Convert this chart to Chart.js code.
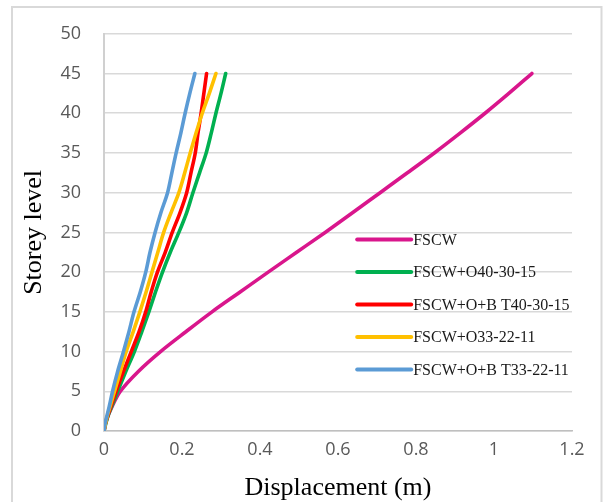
<!DOCTYPE html>
<html><head><meta charset="utf-8">
<script src="https://cdn.jsdelivr.net/npm/chart.js@4.4.0/dist/chart.umd.min.js"></script>
<style>html,body{margin:0;padding:0;background:#fff;} #wrap{width:603px;height:502px;position:relative;}</style>
</head><body><div id="wrap"><canvas id="c" width="603" height="502"></canvas></div>
<script>
// Storey levels (y) and displacements (m)
const storeys = [0,1,2,3,5,7.5,10,12.5,15,17.5,20,22.5,25,27.5,30,32.5,35,37.5,40,42.5,45];
const fscw     = [0,0.004,0.011,0.020,0.042,0.088,0.145,0.210,0.277,0.349,0.421,0.494,0.567,0.638,0.708,0.778,0.847,0.913,0.977,1.038,1.097];
const fscwO40  = [0,0.005,0.011,0.019,0.035,0.056,0.078,0.097,0.115,0.132,0.150,0.170,0.192,0.212,0.228,0.245,0.262,0.275,0.287,0.300,0.312];
const fscwOBT40= [0,0.004,0.010,0.017,0.031,0.050,0.070,0.090,0.107,0.121,0.137,0.157,0.175,0.195,0.212,0.223,0.234,0.241,0.249,0.256,0.263];
const fscwO33  = [0,0.004,0.009,0.015,0.027,0.042,0.057,0.075,0.092,0.108,0.123,0.138,0.153,0.172,0.192,0.207,0.221,0.236,0.252,0.270,0.287];
const fscwOBT33= [0,0.003,0.008,0.013,0.022,0.035,0.050,0.064,0.077,0.093,0.107,0.118,0.131,0.146,0.163,0.174,0.185,0.197,0.208,0.220,0.233];

const seriesNames = ['FSCW','FSCW+O40-30-15','FSCW+O+B T40-30-15','FSCW+O33-22-11','FSCW+O+B T33-22-11'];
const seriesData  = [fscw, fscwO40, fscwOBT40, fscwO33, fscwOBT33];
const seriesColors = ['#D9168C','#00B050','#FF0000','#FFC000','#5B9BD5'];

const xTicks = [0,0.2,0.4,0.6,0.8,1,1.2];
const xTickLabels = ['0','0.2','0.4','0.6','0.8','1','1.2'];
const yTicks = [0,5,10,15,20,25,30,35,40,45,50];

const datasets = seriesData.map((vals, i) => ({
  label: seriesNames[i],
  data: vals.map((v, k) => ({x: v, y: storeys[k]})),
  borderColor: seriesColors[i],
  backgroundColor: seriesColors[i],
  borderWidth: 3.6,
  pointRadius: 0,
  cubicInterpolationMode: 'monotone',
  borderCapStyle: 'round',
  borderJoinStyle: 'round',
  fill: false,
  order: seriesData.length - i
}));

const frame = {
  id: 'frame',
  beforeDraw(chart) {
    const ctx = chart.ctx;
    ctx.save();
    ctx.fillStyle = '#fff';
    ctx.fillRect(0, 0, chart.width, chart.height);
    ctx.strokeStyle = '#D9D9D9';
    ctx.lineWidth = 2;
    ctx.strokeRect(12, 7, 589.5, 520);
    ctx.restore();
  }
};

const legendPlugin = {
  id: 'customLegend',
  afterDatasetsDraw(chart) {
    const ctx = chart.ctx;
    const a = chart.chartArea;
    const x0 = a.left + (a.right - a.left) * 0.541;
    const len = 54;
    const yStart = a.top + (a.bottom - a.top) * 0.518;
    const step = 32.5;
    ctx.save();
    ctx.font = '16px "Liberation Serif", "Times New Roman", serif';
    ctx.textBaseline = 'middle';
    ctx.textAlign = 'left';
    seriesNames.forEach((name, i) => {
      const y = yStart + i * step;
      ctx.strokeStyle = seriesColors[i];
      ctx.lineWidth = 4;
      ctx.lineCap = 'round';
      ctx.beginPath();
      ctx.moveTo(x0, y);
      ctx.lineTo(x0 + len, y);
      ctx.stroke();
      ctx.fillStyle = '#1a1a1a';
      ctx.fillText(name, x0 + len + 2, y + 1);
    });
    ctx.restore();
  }
};

new Chart(document.getElementById('c'), {
  type: 'line',
  data: { datasets },
  plugins: [frame, legendPlugin],
  options: {
    responsive: false,
    animation: false,
    devicePixelRatio: 1,
    indexAxis: 'y',
    layout: { padding: { left: 0, right: 31, top: 30, bottom: 0 } },
    plugins: { legend: { display: false }, tooltip: { enabled: false } },
    scales: {
      x: {
        type: 'linear',
        position: 'bottom',
        min: 0, max: 1.2,
        afterFit(s) { s.height = 71; },
        afterBuildTicks(s) { s.ticks = xTicks.map(v => ({value: v})); },
        grid: { display: false, drawTicks: false },
        border: { display: true, color: '#BFBFBF', width: 1.5 },
        ticks: {
          padding: 8,
          color: '#595959',
          font: { family: '"Open Sans", sans-serif', size: 18 },
          maxRotation: 0,
          autoSkip: false,
          callback: (v, i) => xTickLabels[i]
        },
        title: {
          display: true,
          text: 'Displacement (m)',
          color: '#000',
          font: { family: '"Liberation Serif", "Times New Roman", serif', size: 26, lineHeight: 1 },
          padding: { top: 0, bottom: 1 }
        }
      },
      y: {
        type: 'linear',
        position: 'left',
        min: 0, max: 50,
        afterFit(s) { s.width = 104; },
        afterBuildTicks(s) { s.ticks = yTicks.map(v => ({value: v})); },
        grid: { color: '#D9D9D9', lineWidth: 1.5, drawTicks: false },
        border: { display: true, color: '#D0D0D0', width: 2 },
        ticks: {
          padding: 23,
          color: '#595959',
          font: { family: '"Open Sans", sans-serif', size: 18 },
          autoSkip: false
        },
        title: {
          display: true,
          text: 'Storey level',
          color: '#000',
          font: { family: '"Liberation Serif", "Times New Roman", serif', size: 26, lineHeight: 1 },
          padding: { top: 21, bottom: 0 }
        }
      }
    }
  }
});
</script>
</body></html>
